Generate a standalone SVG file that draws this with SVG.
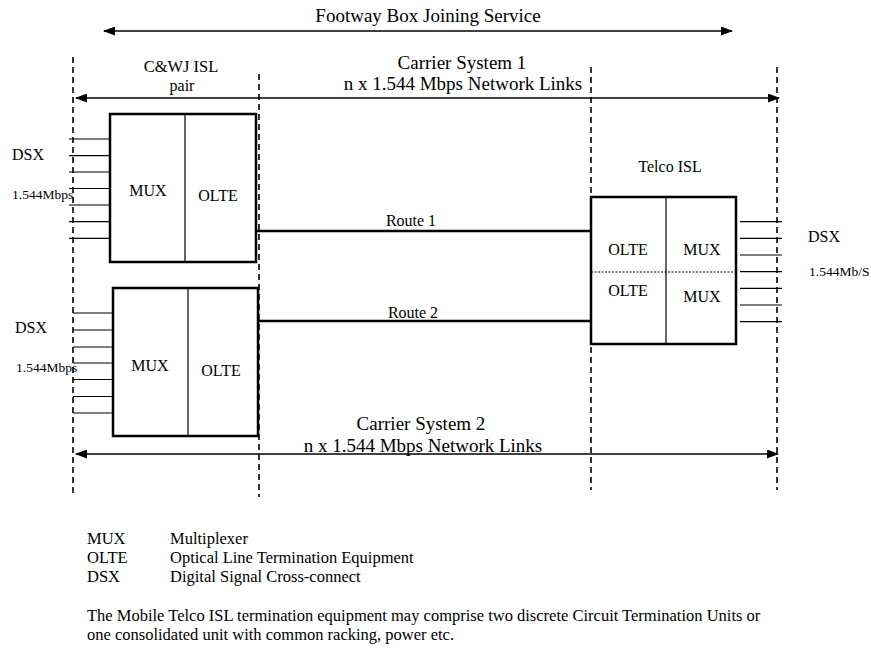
<svg xmlns="http://www.w3.org/2000/svg" width="871" height="649" viewBox="0 0 871 649">
<style>
text{font-family:"Liberation Serif","Times New Roman",serif;fill:#000}
.box{fill:#fff;stroke:#000;stroke-width:2.5}
.div{stroke:#000;stroke-width:1.2}
.dash{stroke:#000;stroke-width:1.6;stroke-dasharray:6,4;fill:none}
.arr{stroke:#000;stroke-width:1.5;fill:none;marker-start:url(#ah);marker-end:url(#ah)}
.route{stroke:#000;stroke-width:2.5}
.tie{stroke:#000;stroke-width:1.2}
.c{text-anchor:middle}
.big{font-size:19px}
.mid{font-size:16px}
.small{font-size:13.5px}
</style>
<defs>
<marker id="ah" viewBox="0 0 12 9" refX="11" refY="4.5" markerWidth="12" markerHeight="9" markerUnits="userSpaceOnUse" orient="auto-start-reverse">
<path d="M0,0 L12,4.5 L0,9 z" fill="#000"/>
</marker>
</defs>
<rect width="871" height="649" fill="#fff"/>

<g id="boundaries">
<line class="dash" x1="73" y1="57" x2="73" y2="495"/>
<line class="dash" x1="259" y1="74" x2="259" y2="497"/>
<line class="dash" x1="591" y1="67" x2="591" y2="490"/>
<line class="dash" x1="777" y1="67" x2="777" y2="490"/>
</g>

<g id="connectors">
<line class="arr" x1="104" y1="31" x2="732" y2="31"/>
<line class="arr" x1="76" y1="98" x2="779" y2="98"/>
<line class="arr" x1="76" y1="454" x2="778" y2="454"/>
<line class="route" x1="256" y1="231" x2="591" y2="231"/>
<line class="route" x1="258" y1="321" x2="591" y2="321"/>
<g class="tie">
<line x1="69" y1="139" x2="110" y2="139"/>
<line x1="69" y1="155.7" x2="110" y2="155.7"/>
<line x1="69" y1="172" x2="110" y2="172"/>
<line x1="69" y1="188.5" x2="110" y2="188.5"/>
<line x1="69" y1="205" x2="110" y2="205"/>
<line x1="69" y1="221.7" x2="110" y2="221.7"/>
<line x1="69" y1="238.3" x2="110" y2="238.3"/>
<line x1="73" y1="313" x2="113" y2="313"/>
<line x1="73" y1="330" x2="113" y2="330"/>
<line x1="73" y1="347" x2="113" y2="347"/>
<line x1="73" y1="363" x2="113" y2="363"/>
<line x1="73" y1="379.5" x2="113" y2="379.5"/>
<line x1="73" y1="396.5" x2="113" y2="396.5"/>
<line x1="73" y1="413" x2="113" y2="413"/>
<line x1="740" y1="221.7" x2="782" y2="221.7"/>
<line x1="740" y1="238.3" x2="782" y2="238.3"/>
<line x1="740" y1="255" x2="782" y2="255"/>
<line x1="740" y1="271.7" x2="782" y2="271.7"/>
<line x1="740" y1="288.3" x2="782" y2="288.3"/>
<line x1="740" y1="305" x2="782" y2="305"/>
<line x1="740" y1="321.7" x2="782" y2="321.7"/>
</g>
</g>

<g id="labels">
<text class="c big" x="428" y="22">Footway Box Joining Service</text>
<text class="c big" x="462" y="69">Carrier System 1</text>
<text class="c big" x="463" y="90">n x 1.544 Mbps Network Links</text>
<text class="c big" x="421" y="430">Carrier System 2</text>
<text class="c big" x="423" y="452">n x 1.544 Mbps Network Links</text>
<text class="c" x="181" y="72" font-size="16.5">C&amp;WJ ISL</text>
<text class="c mid" x="182" y="91">pair</text>
<text class="c mid" x="411" y="226">Route 1</text>
<text class="c mid" x="413" y="318">Route 2</text>
</g>

<g id="cwj-isl-1">
<rect class="box" x="110" y="114" width="146" height="148"/>
<line class="div" x1="185" y1="114" x2="185" y2="262"/>
<text class="c mid" x="148" y="196">MUX</text>
<text class="c mid" x="218" y="201">OLTE</text>
<text class="mid" x="12" y="160">DSX</text>
<text class="small" x="12" y="199">1.544Mbps</text>
</g>

<g id="cwj-isl-2">
<rect class="box" x="113" y="288" width="145" height="148"/>
<line class="div" x1="188" y1="288" x2="188" y2="436"/>
<text class="c mid" x="150" y="371">MUX</text>
<text class="c mid" x="221" y="376">OLTE</text>
<text class="mid" x="15" y="333">DSX</text>
<text class="small" x="16" y="372">1.544Mbps</text>
</g>

<g id="telco-isl">
<text class="c mid" x="670" y="172">Telco ISL</text>
<rect class="box" x="591" y="197" width="145" height="147"/>
<line class="div" x1="666" y1="197" x2="666" y2="344"/>
<line x1="591" y1="272" x2="736" y2="272" stroke="#000" stroke-width="1.2" stroke-dasharray="2,1.5"/>
<text class="c mid" x="628" y="255">OLTE</text>
<text class="c mid" x="702" y="255">MUX</text>
<text class="c mid" x="628" y="296">OLTE</text>
<text class="c mid" x="702" y="302">MUX</text>
<text class="mid" x="808" y="242">DSX</text>
<text class="small" x="809" y="276">1.544Mb/S</text>
</g>

<g id="legend" font-size="16.5">
<text x="87" y="544">MUX</text>
<text x="170" y="544">Multiplexer</text>
<text x="87" y="563">OLTE</text>
<text x="170" y="563">Optical  Line Termination Equipment</text>
<text x="87" y="582">DSX</text>
<text x="170" y="582">Digital Signal Cross-connect</text>
<text x="87" y="621">The Mobile Telco ISL termination equipment may comprise two discrete Circuit Termination Units or</text>
<text x="87" y="640">one consolidated unit with common racking, power etc.</text>
</g>
</svg>
